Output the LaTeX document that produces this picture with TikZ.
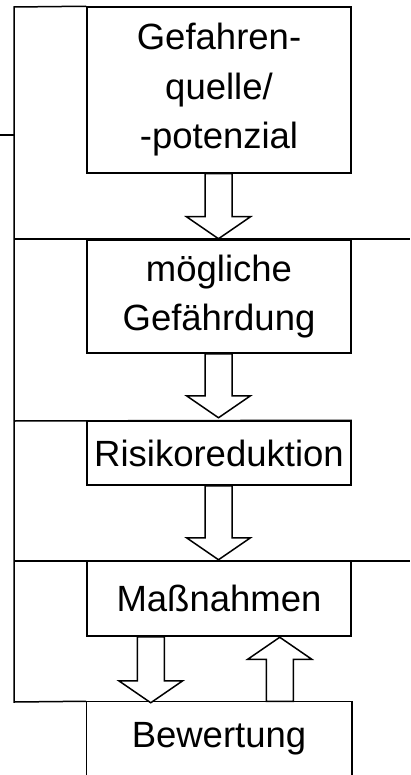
\documentclass[tikz,border=0pt]{standalone}
\usepackage{fontspec}
\setmainfont{Liberation Sans}
\usetikzlibrary{calc}

\tikzset{
  every picture/.style={x=1pt, y=-1pt, line width=1.5pt},
  stage/.style={draw, minimum width=264pt, inner sep=0pt, align=center,
    font=\fontsize{36.5}{49.5}\selectfont},
  openstage/.style={minimum width=264pt, inner sep=0pt, align=center,
    font=\fontsize{36.5}{49.5}\selectfont},
  blockarrow/.style={draw, fill=white, line join=miter},
  rail/.style={draw}
}

% hollow block arrow: start point, length to tip, direction (1 = down, -1 = up)
\newcommand{\hollowarrow}[3]{%
  \draw[blockarrow] (#1) ++(-13.5,0) -- ++(27,0) -- ++(0,#3*#2-#3*22)
    -- ++(18.5,0) -- ++(-32,#3*22) -- ++(-32,-#3*22) -- ++(18.5,0) -- cycle;}

\begin{document}
\begin{tikzpicture}
\useasboundingbox (0,0) rectangle (410,775);

% stages
\node[stage, minimum height=166pt] (src) at (219,90)
  {Gefahren-\\quelle/\\-potenzial};
\node[stage, minimum height=113pt] (haz) at (219,296.5)
  {mögliche\\Gefährdung};
\node[stage, minimum height=64pt] (red) at (219,453) {Risikoreduktion};
\node[stage, minimum height=75pt] (mea) at (219,598.5) {Maßnahmen};
\node[openstage, minimum height=74pt] (eva) at (219,739) {Bewertung};
\draw (eva.south west) ++(0,3) -- (eva.north west) -- (eva.north east) -- ++(0,75);

% frame lines on the left and the level lines
\coordinate (topleft) at (14,7);
\coordinate (stub) at (0,135);
\coordinate (stubend) at (14,135);
\coordinate (l2) at (14,239);
\coordinate (r2) at (410,239);
\coordinate (l3) at (14,421);
\coordinate (l4) at (14,561);
\coordinate (r4) at (410,561);
\coordinate (l5) at (14,702);

\draw[rail] (src.north west) -- (topleft) -- (l5) -- (eva.north west);
\draw[rail] (stub) -- (stubend);
\draw[rail] (l2) -- (r2);
\draw[rail] (l3) -- (red.north east);
\draw[rail] (l4) -- (r4);

% block arrows between the stages
\coordinate (a1) at ($(src.south)+(-0.5,0)$);
\coordinate (a2) at ($(haz.south)+(-0.5,0)$);
\coordinate (a3) at ($(red.south)+(-0.5,0)$);
\coordinate (a4) at ($(mea.south west)+(64.5,0)$);
\coordinate (a5) at ($(eva.north west)+(193.5,0)$);
\hollowarrow{a1}{65}{1}
\hollowarrow{a2}{64}{1}
\hollowarrow{a3}{74}{1}
\hollowarrow{a4}{66}{1}
\hollowarrow{a5}{64}{-1}
\end{tikzpicture}
\end{document}
